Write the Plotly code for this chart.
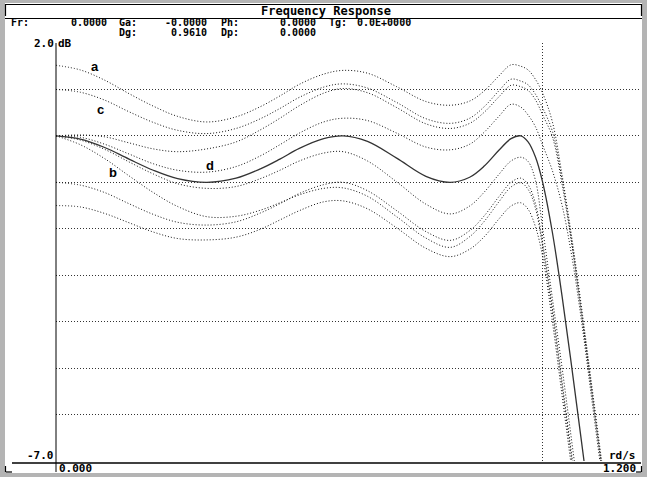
import plotly.graph_objects as go

# frequency grid (rad/s)
W = [0, 0.05, 0.1, 0.15, 0.2, 0.25, 0.31, 0.37, 0.42, 0.46, 0.5, 0.55, 0.59, 0.64, 0.7, 0.76,
     0.81, 0.85, 0.88, 0.91, 0.935, 0.955, 0.97, 0.985, 1.0, 1.02, 1.04, 1.06, 1.08, 1.10, 1.12, 1.14]

# responses in dB
resp_a = [1.52, 1.42, 1.20, 0.91, 0.64, 0.42, 0.30, 0.41, 0.63, 0.86, 1.11, 1.33, 1.41, 1.35, 1.06, 0.74,
          0.66, 0.75, 0.97, 1.29, 1.53, 1.50, 1.42, 1.22, 0.92, 0.30, -0.85, -2.2, -3.7, -5.3, -6.9, -8.5]
resp_c = [1.00, 0.94, 0.77, 0.52, 0.29, 0.12, 0.05, 0.16, 0.37, 0.59, 0.83, 1.05, 1.12, 1.03, 0.72, 0.37,
          0.27, 0.38, 0.63, 0.97, 1.22, 1.18, 1.10, 0.90, 0.60, 0.10, -0.95, -2.3, -3.8, -5.4, -7.0, -8.6]
resp_e = [0.00, 0.02, -0.02, -0.15, -0.28, -0.34, -0.28, -0.13, 0.13, 0.38, 0.65, 0.92, 1.02, 0.93, 0.61, 0.26,
          0.16, 0.27, 0.51, 0.84, 1.09, 1.06, 0.98, 0.78, 0.45, -0.02, -1.05, -2.35, -3.85, -5.45, -7.05, -8.7]
resp_f = [0.00, -0.03, -0.18, -0.39, -0.60, -0.74, -0.78, -0.66, -0.43, -0.19, 0.06, 0.30, 0.38, 0.33, 0.06, -0.24,
          -0.30, -0.18, 0.08, 0.42, 0.68, 0.62, 0.45, 0.20, -0.20, -0.75, -1.5, -2.6, -4.0, -5.6, -7.2, -8.8]
resp_g = [0.00, -0.09, -0.29, -0.56, -0.82, -1.03, -1.13, -1.09, -0.92, -0.74, -0.54, -0.37, -0.34, -0.54, -0.99, -1.47,
          -1.68, -1.51, -1.21, -0.83, -0.54, -0.46, -0.55, -0.95, -2.0, -3.5, -5.0, -6.6, -8.2, -9.8, -11.2, -12.6]
resp_h = [-1.00, -1.06, -1.22, -1.46, -1.69, -1.86, -1.92, -1.85, -1.66, -1.46, -1.24, -1.05, -1.00, -1.18, -1.61, -2.06,
          -2.25, -2.04, -1.72, -1.31, -1.00, -0.91, -1.05, -1.45, -2.3, -3.7, -5.3, -6.9, -8.5, -10.0, -11.5, -13.0]
resp_b = [0.00, -0.19, -0.49, -0.86, -1.22, -1.52, -1.74, -1.73, -1.60, -1.44, -1.27, -1.13, -1.12, -1.30, -1.74, -2.20,
          -2.40, -2.17, -1.84, -1.42, -1.10, -1.01, -1.15, -1.55, -2.4, -3.8, -5.4, -7.0, -8.6, -10.2, -11.7, -13.2]
resp_i = [-1.50, -1.53, -1.67, -1.87, -2.07, -2.21, -2.24, -2.18, -2.01, -1.81, -1.61, -1.42, -1.40, -1.57, -1.98, -2.42,
          -2.60, -2.44, -2.17, -1.79, -1.51, -1.44, -1.58, -1.95, -2.6, -4.0, -5.6, -7.2, -8.8, -10.4, -12.0, -13.5]
resp_d = [0.00, -0.07, -0.25, -0.50, -0.74, -0.92, -1.00, -0.91, -0.71, -0.50, -0.27, -0.06, 0.00, -0.12, -0.48, -0.87,
          -1.00, -0.89, -0.65, -0.31, -0.06, 0.00, -0.13, -0.45, -1.00, -2.08, -3.46, -5.00, -6.60, -8.20, -9.74, -11.22]

y_grid = [1, 0, -1, -2, -3, -4, -5, -6]
x_grid = [1.0]

# pixel helpers for decoration placement
L, R, T, B = 56, 640, 43, 461
def X(px):
    return (px - L) / (R - L)
def Y(py):
    return (B - py) / (B - T)

fig = go.Figure()
dotted = dict(color='#141414', width=1, dash='1px,2px', shape='spline', smoothing=1.0)
for vals in [resp_a, resp_c, resp_e, resp_f, resp_g, resp_h, resp_b, resp_i]:
    fig.add_trace(go.Scatter(x=W, y=vals, mode='lines', line=dotted,
                             hoverinfo='skip', showlegend=False))
fig.add_trace(go.Scatter(x=W, y=resp_d, mode='lines',
                         line=dict(color='#333333', width=1.3, shape='spline', smoothing=1.0),
                         hoverinfo='skip', showlegend=False))

grey = '#b4b4b4'
shapes = []
def rect(x0, y0, x1, y1, col):
    shapes.append(dict(type='rect', xref='paper', yref='paper', x0=X(x0), x1=X(x1),
                       y0=Y(y0), y1=Y(y1), fillcolor=col, line=dict(width=0), layer='above'))
def line(x0, y0, x1, y1, w=1.2, col='black'):
    shapes.append(dict(type='line', xref='paper', yref='paper', x0=X(x0), x1=X(x1),
                       y0=Y(y0), y1=Y(y1), line=dict(color=col, width=w), layer='above'))

rect(0, 0, 5, 477, grey)
rect(642, 0, 647, 477, grey)
rect(0, 0, 647, 3, grey)
rect(0, 473, 647, 477, grey)
line(5, 4.5, 642, 4.5)
line(5, 18.5, 642, 18.5)
line(5.5, 4, 5.5, 16)
line(641.5, 4, 641.5, 16)
line(12, 463, 641, 463, 1.5)
line(56, 43, 56, 472, 1)
line(5.5, 466, 5.5, 472)
line(5.5, 472, 12, 472)
line(641.5, 466, 641.5, 472)
line(636, 472, 641.5, 472)

mono = 'DejaVu Sans Mono'
ann = []
def txt(s, x, y, anchor='left', size=10, fam=mono):
    ann.append(dict(text='<b>' + s + '</b>', x=X(x), y=Y(y), xref='paper', yref='paper',
                    xanchor=anchor, yanchor='middle', showarrow=False, borderpad=0,
                    font=dict(family=fam, size=size, color='black')))

txt('Frequency Response', 326, 11, 'center', 12)
r1, r2 = 23, 32.5
txt('Fr:', 10, r1)
txt('0.0000', 70, r1)
txt('Ga:', 118, r1)
txt('-0.0000', 164, r1)
txt('Ph:', 220, r1)
txt('0.0000', 279, r1)
txt('Tg:', 328, r1)
txt('0.0E+0000', 356, r1)
txt('Dg:', 118, r2)
txt('0.9610', 170, r2)
txt('Dp:', 220, r2)
txt('0.0000', 279, r2)
txt('2.0', 55, 44, 'right', 11)
txt('dB', 57, 44, 'left', 11)
txt('-7.0', 55, 455, 'right', 11)
txt('rd/s', 637, 455, 'right', 11)
txt('0.000', 58, 468, 'left', 11)
txt('1.200', 637, 468, 'right', 11)

sans = 'Liberation Sans'
txt('a', 95, 67, 'center', 13, sans)
txt('c', 100, 109, 'center', 13, sans)
txt('b', 113, 172, 'center', 13, sans)
txt('d', 210, 165, 'center', 13, sans)

fig.update_layout(
    width=647, height=477,
    margin=dict(l=L, r=647 - R, t=T, b=477 - B),
    paper_bgcolor='white', plot_bgcolor='white',
    showlegend=False,
    shapes=shapes, annotations=ann,
    xaxis=dict(range=[0, 1.2], tickvals=x_grid, showticklabels=False, ticks='',
               showgrid=True, gridcolor='#333333', griddash='1px,2px', gridwidth=1,
               zeroline=False, showline=False, fixedrange=True),
    yaxis=dict(range=[-7, 2], tickvals=y_grid, showticklabels=False, ticks='',
               showgrid=True, gridcolor='#333333', griddash='1px,2px', gridwidth=1,
               zeroline=False, showline=False, fixedrange=True),
)

fig.write_html('out.html', config={'displayModeBar': False},
               post_script="document.body.style.margin='0';document.body.style.padding='0';"
                           "document.body.style.overflow='hidden';")
